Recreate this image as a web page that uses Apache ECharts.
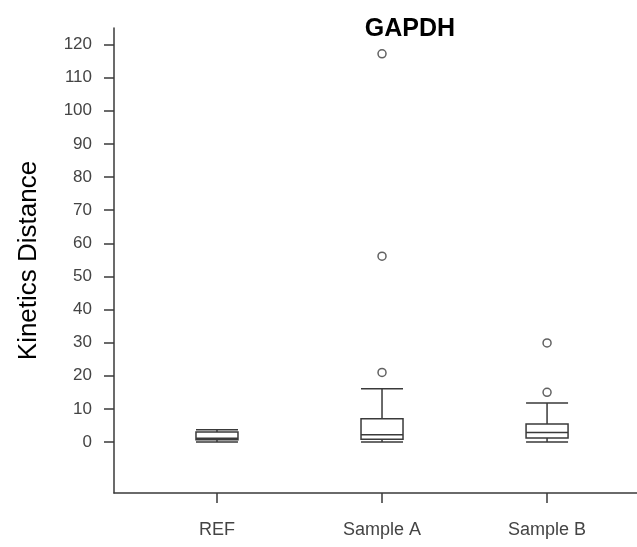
<!DOCTYPE html>
<html>
<head>
<meta charset="utf-8">
<script src="https://cdn.jsdelivr.net/npm/echarts@6/dist/echarts.min.js"></script>
<style>
html, body { margin: 0; padding: 0; background: #fff; }
#main { width: 637px; height: 547px; }
</style>
</head>
<body>
<div id="main"></div>
<script>
var categories = ['REF', 'Sample A', 'Sample B'];
// min, Q1, median, Q3, max
var boxStats = [
    [0.0, 0.7, 1.1, 3.0, 3.7],
    [0.0, 0.8, 2.2, 7.0, 16.1],
    [0.0, 1.2, 2.9, 5.4, 11.8]
];
// [category index, value]
var outliers = [
    [1, 21.0], [1, 56.1], [1, 117.2],
    [2, 15.0], [2, 29.9]
];
var yTicks = [0, 10, 20, 30, 40, 50, 60, 70, 80, 90, 100, 110, 120];

var font = 'Liberation Sans, Arial, sans-serif';
var ink = '#3a3a3a';

var boxData = boxStats.map(function (s, i) {
    return [i + 1].concat(s);
});
var outlierData = outliers.map(function (o) {
    return [o[0] + 1, o[1]];
});

option = {
    animation: false,
    backgroundColor: '#fff',
    title: {
        text: 'GAPDH',
        left: 405,
        textAlign: 'center',
        top: 12,
        textStyle: {
            fontFamily: font,
            fontSize: 25,
            fontWeight: 'bold',
            color: '#000'
        }
    },
    grid: {
        left: 114,
        right: 0,
        top: 28,
        bottom: 54
    },
    xAxis: {
        type: 'value',
        min: 0.376,
        max: 3.545,
        splitLine: {show: false},
        axisLine: {onZero: false, lineStyle: {color: ink, width: 1.5}},
        axisTick: {
            customValues: [1, 2, 3],
            length: 10,
            lineStyle: {color: ink, width: 1.5}
        },
        axisLabel: {
            customValues: [1, 2, 3],
            formatter: function (v) { return categories[Math.round(v) - 1]; },
            margin: 28,
            fontFamily: font,
            fontSize: 18,
            color: '#444'
        }
    },
    yAxis: {
        type: 'value',
        min: -15.4,
        max: 125,
        name: 'Kinetics Distance',
        nameLocation: 'middle',
        nameGap: 72,
        nameTextStyle: {
            fontFamily: font,
            fontSize: 26,
            color: '#000'
        },
        splitLine: {show: false},
        axisLine: {show: true, lineStyle: {color: ink, width: 1.5}},
        axisTick: {
            show: true,
            customValues: yTicks,
            length: 10,
            lineStyle: {color: ink, width: 1.5}
        },
        axisLabel: {
            customValues: yTicks,
            margin: 22,
            fontFamily: font,
            fontSize: 17,
            color: '#444'
        }
    },
    series: [
        {
            type: 'boxplot',
            data: boxData,
            boxWidth: [42, 42],
            itemStyle: {
                color: '#fff',
                borderColor: ink,
                borderWidth: 1.5
            }
        },
        {
            type: 'scatter',
            data: outlierData,
            symbol: 'circle',
            symbolSize: 8,
            itemStyle: {
                color: '#fff',
                borderColor: ink,
                borderWidth: 1.5
            }
        }
    ]
};
echarts.init(document.getElementById('main')).setOption(option);
</script>
</body>
</html>
